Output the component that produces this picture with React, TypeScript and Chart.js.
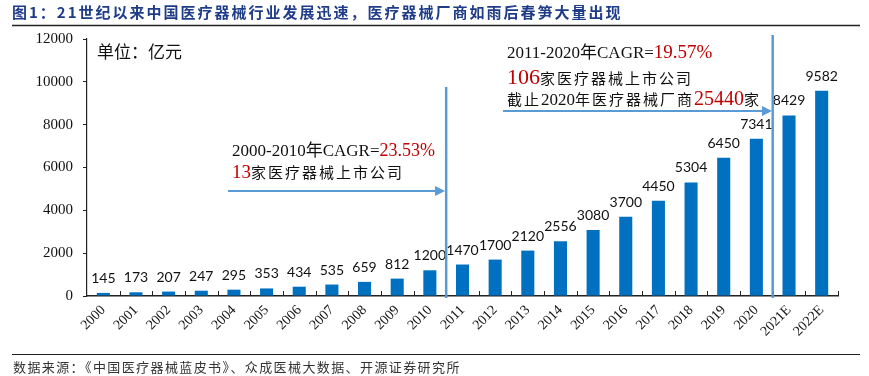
import React, { useEffect, useRef } from "react";
import { Chart, registerables } from "chart.js";

Chart.register(...registerables);

const categories = ["2000","2001","2002","2003","2004","2005","2006","2007","2008","2009","2010","2011","2012","2013","2014","2015","2016","2017","2018","2019","2020","2021E","2022E"];
const marketSize = [145,173,207,247,295,353,434,535,659,812,1200,1470,1700,2120,2556,3080,3700,4450,5304,6450,7341,8429,9582];
const yTicks = [0, 2000, 4000, 6000, 8000, 10000, 12000];
const titleText = "图1：21世纪以来中国医疗器械行业发展迅速，医疗器械厂商如雨后春笋大量出现";
const footerText = "数据来源：《中国医疗器械蓝皮书》、众成医械大数据、开源证券研究所";
const unitText = "单位：亿元";
const dividerAfterIndex = [10, 20];

const W = 869;
const H = 376;
const BLUE = "#0070C0";
const LINE_BLUE = "#5B9BD5";
const RED = "#C00000";
const SERIF = '"Liberation Serif", "Noto Sans CJK SC", serif';
const CJK = '"Noto Sans CJK SC", sans-serif';

type Seg = { t: string; c?: string; s: number; f?: string; ls?: number };

function drawRich(ctx: CanvasRenderingContext2D, x: number, y: number, segs: Seg[]) {
  let cx = x;
  for (const sg of segs) {
    ctx.font = `${sg.s}px ${sg.f || SERIF}`;
    (ctx as any).letterSpacing = `${sg.ls || 0}px`;
    ctx.fillStyle = sg.c || "#111";
    ctx.textAlign = "left";
    ctx.textBaseline = "alphabetic";
    ctx.fillText(sg.t, cx, y);
    cx += ctx.measureText(sg.t).width;
  }
  (ctx as any).letterSpacing = "0px";
}

function arrow(ctx: CanvasRenderingContext2D, x1: number, x2: number, y: number) {
  ctx.save();
  ctx.strokeStyle = LINE_BLUE;
  ctx.fillStyle = LINE_BLUE;
  ctx.lineWidth = 2;
  ctx.beginPath();
  ctx.moveTo(x1, y);
  ctx.lineTo(x2 - 8, y);
  ctx.stroke();
  ctx.beginPath();
  ctx.moveTo(x2, y);
  ctx.lineTo(x2 - 10, y - 5);
  ctx.lineTo(x2 - 10, y + 5);
  ctx.closePath();
  ctx.fill();
  ctx.restore();
}

const decorPlugin = {
  id: "decor",
  afterDraw(chart: any) {
    const ctx: CanvasRenderingContext2D = chart.ctx;
    const ca = chart.chartArea;
    const xs = chart.scales.x;
    const ys = chart.scales.y;
    ctx.save();

    // title
    ctx.font = `bold 15px ${CJK}`;
    (ctx as any).letterSpacing = "2px";
    ctx.fillStyle = "#1F3C88";
    ctx.textBaseline = "middle";
    ctx.textAlign = "left";
    ctx.fillText(titleText, 12, 12);
    (ctx as any).letterSpacing = "0px";
    ctx.strokeStyle = "#222";
    ctx.lineWidth = 1.5;
    ctx.beginPath();
    ctx.moveTo(12, 25.5);
    ctx.lineTo(860, 25.5);
    ctx.stroke();

    // footer
    ctx.lineWidth = 1.2;
    ctx.beginPath();
    ctx.moveTo(12, 354.5);
    ctx.lineTo(860, 354.5);
    ctx.stroke();
    ctx.font = `13px ${CJK}`;
    (ctx as any).letterSpacing = "1.4px";
    ctx.fillStyle = "#333";
    ctx.textBaseline = "middle";
    ctx.fillText(footerText, 13, 367);
    (ctx as any).letterSpacing = "0px";

    // unit
    ctx.font = `17px ${CJK}`;
    ctx.fillStyle = "#111";
    ctx.textBaseline = "middle";
    ctx.fillText(unitText, 97, 52);

    // inward x ticks
    ctx.strokeStyle = "#222";
    ctx.lineWidth = 1;
    const step = (ca.right - ca.left) / categories.length;
    for (let i = 1; i <= categories.length; i++) {
      const x = Math.round(ca.left + i * step) + 0.5;
      ctx.beginPath();
      ctx.moveTo(x, ca.bottom);
      ctx.lineTo(x, ca.bottom - 5);
      ctx.stroke();
    }

    // dividers
    ctx.strokeStyle = LINE_BLUE;
    ctx.lineWidth = 2.5;
    const tops = [87, 35];
    dividerAfterIndex.forEach((idx, k) => {
      const x = (xs.getPixelForValue(idx) + xs.getPixelForValue(idx + 1)) / 2;
      ctx.beginPath();
      ctx.moveTo(x, tops[k]);
      ctx.lineTo(x, ca.bottom + 2);
      ctx.stroke();
    });

    // annotations
    drawRich(ctx, 232, 156, [
      { t: "2000-2010年CAGR=", s: 17 },
      { t: "23.53%", s: 18, c: RED },
    ]);
    drawRich(ctx, 232, 178, [
      { t: "13", s: 19, c: RED },
      { t: "家医疗器械上市公司", s: 15, f: CJK, ls: 2 },
    ]);
    arrow(ctx, 228, 445, 191);

    drawRich(ctx, 507, 58, [
      { t: "2011-2020年CAGR=", s: 17 },
      { t: "19.57%", s: 19, c: RED },
    ]);
    drawRich(ctx, 507, 84, [
      { t: "106", s: 22, c: RED },
      { t: "家医疗器械上市公司", s: 15, f: CJK, ls: 2 },
    ]);
    drawRich(ctx, 507, 105, [
      { t: "截止", s: 15, f: CJK, ls: 2 },
      { t: "2020", s: 17 },
      { t: "年医疗器械厂商", s: 15, f: CJK, ls: 2 },
      { t: "25440", s: 20, c: RED },
      { t: "家", s: 15, f: CJK },
    ]);
    arrow(ctx, 503, 772, 111);

    ctx.restore();
  },
};

const labelPlugin = {
  id: "barLabels",
  afterDatasetsDraw(chart: any) {
    const ctx: CanvasRenderingContext2D = chart.ctx;
    const meta = chart.getDatasetMeta(0);
    ctx.save();
    ctx.font = '14px Lato, "Liberation Sans", sans-serif';
    ctx.fillStyle = "#111";
    ctx.textAlign = "center";
    ctx.textBaseline = "alphabetic";
    meta.data.forEach((el: any, i: number) => {
      ctx.fillText(String(marketSize[i]), el.x, el.y - 10);
    });
    ctx.restore();
  },
};

export default function App() {
  const ref = useRef<HTMLCanvasElement | null>(null);
  useEffect(() => {
    if (!ref.current) return;
    const chart = new Chart(ref.current, {
      type: "bar",
      data: {
        labels: categories,
        datasets: [
          {
            data: marketSize,
            backgroundColor: BLUE,
            borderWidth: 0,
            barPercentage: 0.4,
            categoryPercentage: 1,
          },
        ],
      },
      options: {
        responsive: false,
        animation: false,
        devicePixelRatio: 1,
        layout: { padding: { left: 0, top: 39, right: 31, bottom: 0 } },
        plugins: { legend: { display: false }, tooltip: { enabled: false } },
        scales: {
          x: {
            grid: { display: false, drawTicks: false },
            border: { display: true, color: "#222", width: 1.5 },
            ticks: {
              autoSkip: false,
              maxRotation: 45,
              minRotation: 45,
              padding: 6,
              color: "#111",
              font: { family: SERIF, size: 14 },
            },
            afterFit: (s: any) => { s.height = 80; },
          },
          y: {
            min: 0,
            max: 12000,
            afterBuildTicks: (s: any) => { s.ticks = yTicks.map((v) => ({ value: v })); },
            grid: { drawOnChartArea: false, drawTicks: true, tickLength: 4, color: "#222" },
            border: { display: true, color: "#222", width: 1.2 },
            ticks: {
              padding: 10,
              color: "#111",
              font: { family: SERIF, size: 15 },
              callback: (v: any) => String(v),
            },
            afterFit: (s: any) => { s.width = 87; },
          },
        },
      },
      plugins: [labelPlugin, decorPlugin],
    });
    return () => chart.destroy();
  }, []);
  return (
    <div style={{ position: "fixed", left: 0, top: 0, width: W, height: H, background: "#fff" }}>
      <canvas ref={ref} width={W} height={H} style={{ display: "block", width: W, height: H }} />
    </div>
  );
}
